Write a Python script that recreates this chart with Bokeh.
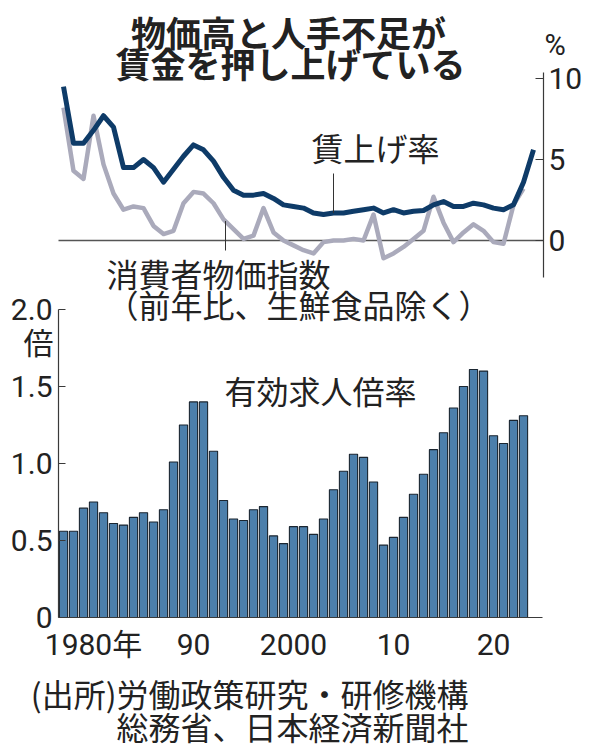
from bokeh.plotting import figure
from bokeh.models import Range1d, LinearAxis, FixedTicker, Label
from bokeh.embed import file_html
from bokeh.resources import INLINE

# ---------------- data ----------------
bar_years = list(range(1977, 2024))
job_ratio = [0.56, 0.56, 0.71, 0.75, 0.68, 0.61, 0.60, 0.65, 0.68, 0.62,
             0.70, 1.01, 1.25, 1.40, 1.40, 1.08, 0.76, 0.64, 0.63, 0.70,
             0.72, 0.53, 0.48, 0.59, 0.59, 0.54, 0.64, 0.83, 0.95, 1.06,
             1.04, 0.88, 0.47, 0.52, 0.65, 0.80, 0.93, 1.09, 1.20, 1.36,
             1.50, 1.61, 1.60, 1.18, 1.13, 1.28, 1.31]

wage_years = list(range(1977, 2025))
wage_rate = [9.5, 6.0, 6.0, 6.8, 7.7, 7.0, 4.5, 4.5, 5.0, 4.5,
             3.6, 4.4, 5.2, 5.9, 5.6, 4.9, 3.9, 3.1, 2.8, 2.8,
             2.9, 2.6, 2.2, 2.1, 2.0, 1.7, 1.6, 1.7, 1.7, 1.8,
             1.9, 2.0, 1.7, 1.9, 1.7, 1.8, 1.85, 2.2, 2.4, 2.1,
             2.1, 2.3, 2.2, 2.0, 1.9, 2.2, 3.6, 5.6]

cpi_years = list(range(1977, 2024))
cpi_rate = [8.2, 4.3, 3.8, 7.7, 4.7, 2.9, 1.9, 2.1, 2.0, 0.9,
            0.4, 0.6, 2.3, 3.0, 2.9, 2.3, 1.3, 0.7, 0.1, 0.3,
            2.0, 0.5, 0.0, -0.3, -0.6, -0.8, -0.1, 0.0, 0.0, 0.1,
            0.0, 1.6, -1.1, -0.8, -0.4, 0.1, 0.6, 2.7, 1.1, -0.1,
            0.5, 1.0, 0.6, -0.1, -0.2, 2.2, 3.2]

x_ticks = [1980, 1990, 2000, 2010, 2020]
x_tick_labels = ["1980年", "90", "2000", "10", "20"]
ratio_ticks = [0, 0.5, 1.0, 1.5, 2.0]
ratio_tick_labels = ["0", "0.5", "1.0", "1.5", "2.0"]
pct_ticks = [0, 5, 10]
pct_tick_labels = ["0", "5", "10"]

title_lines = ["物価高と人手不足が", "賃金を押し上げている"]
wage_label = "賃上げ率"
cpi_label = ["消費者物価指数", "（前年比、生鮮食品除く）"]
ratio_label = "有効求人倍率"
source_lines = ["(出所)労働政策研究・研修機構", "総務省、日本経済新聞社"]

# ---------------- layout constants (pixels) ----------------
W, H = 593, 751
LEFT, RIGHT, TOP, BOTTOM = 58, 542, 72, 617   # panel edges on the canvas
PX_PER_YEAR = 10.0
PCT_ZERO_PX, PX_PER_PCT = 240.0, 16.2
PX_PER_RATIO = 154.0
X_AT_LEFT = 1976.5


def xv(px):
    return X_AT_LEFT + (px - LEFT) / PX_PER_YEAR


def pv(py):
    return (PCT_ZERO_PX - py) / PX_PER_PCT


def rv(py):
    return (BOTTOM - py) / PX_PER_RATIO


JP = "Noto Sans CJK JP"
NUM = "Roboto, Noto Sans CJK JP"
TXT = "#222222"
AX = "#3a3a3a"

p = figure(width=W, height=H, output_backend="svg", toolbar_location=None,
           title=None,
           x_range=Range1d(xv(0), xv(W)), y_range=Range1d(rv(H), rv(0)),
           min_border_left=0, min_border_right=0,
           min_border_top=0, min_border_bottom=0,
           x_axis_location=None, y_axis_location=None,
           outline_line_color=None, background_fill_color="white",
           border_fill_color="white")
p.extra_y_ranges = {"pct": Range1d(pv(H), pv(0))}
p.xgrid.visible = False
p.ygrid.visible = False


def style_axis(a, size="30px", standoff=6):
    a.minor_tick_line_color = None
    a.axis_line_color = AX
    a.axis_line_width = 1.2
    a.major_tick_line_color = AX
    a.major_label_text_font = NUM
    a.major_label_text_font_size = size
    a.major_label_text_color = TXT
    a.major_label_standoff = standoff


# bottom axis (drawn at ratio 0)
xa = LinearAxis(ticker=FixedTicker(ticks=x_ticks), fixed_location=0,
                bounds=(xv(LEFT), xv(RIGHT)))
style_axis(xa, standoff=3)
xa.major_label_overrides = dict(zip(x_ticks, x_tick_labels))
xa.major_tick_line_color = None
p.add_layout(xa, "below")

# left axis (job-offer ratio)
ya = LinearAxis(ticker=FixedTicker(ticks=ratio_ticks), fixed_location=xv(LEFT),
                bounds=(0, 2.0))
style_axis(ya)
ya.major_label_overrides = dict(zip(ratio_ticks, ratio_tick_labels))
ya.major_tick_in = 7
ya.major_tick_out = 0
p.add_layout(ya, "left")

# right axis (percent)
ra = LinearAxis(y_range_name="pct", ticker=FixedTicker(ticks=pct_ticks),
                fixed_location=xv(RIGHT + 1), bounds=(pv(277), pv(TOP)))
style_axis(ra, standoff=5)
ra.major_label_overrides = dict(zip(pct_ticks, pct_tick_labels))
ra.major_tick_in = 8
ra.major_tick_out = 0
p.add_layout(ra, "right")

# zero line of upper panel
p.segment(x0=[xv(LEFT)], y0=[0], x1=[xv(RIGHT + 1)], y1=[0], y_range_name="pct",
          line_color="#555555", line_width=1.3)

# bars
p.vbar(x=bar_years, top=job_ratio, width=0.82, bottom=0,
       fill_color="#4c7fab", line_color="#1b2631", line_width=1.1)

# lines
p.line(cpi_years, cpi_rate, y_range_name="pct", line_color="#aaaabb",
       line_width=4.5, line_join="round")
p.line(wage_years, wage_rate, y_range_name="pct", line_color="#0e3b68",
       line_width=5, line_join="round")

# leader lines
wage_pt_year = 2004
wage_pt_val = wage_rate[wage_years.index(wage_pt_year)]
p.segment(x0=[wage_pt_year], y0=[wage_pt_val], x1=[wage_pt_year], y1=[pv(173)],
          y_range_name="pct", line_color="#333333", line_width=1)
cpi_pt_year = 1993
cpi_pt_val = cpi_rate[cpi_years.index(cpi_pt_year)]
p.segment(x0=[cpi_pt_year + 0.2], y0=[cpi_pt_val - 0.1], x1=[cpi_pt_year + 0.2],
          y1=[pv(250)], y_range_name="pct", line_color="#333333", line_width=1)


def lab(text, px, py, size, align="left", bold=False, font=JP):
    p.add_layout(Label(x=xv(px), y=pv(py), y_range_name="pct", text=text,
                       text_align=align, text_baseline="middle",
                       text_font=font, text_font_size=size, text_color=TXT,
                       text_font_style="bold" if bold else "normal"))


lab(title_lines[0], 288, 31, "35px", "center", True)
lab(title_lines[1], 290, 62, "35px", "center", True)
lab("%", 544, 44, "29px", "left", font=NUM)
lab(wage_label, 311, 146, "32px")
lab(cpi_label[0], 106, 272, "32px")
lab(cpi_label[1], 106, 303, "32px")
lab("倍", 53, 340, "30px", "right")
lab(ratio_label, 224, 389, "32px")
lab(source_lines[0], 468, 692, "32px", "right")
lab(source_lines[1], 468, 725, "32px", "right")

open("out.html", "w").write(file_html(p, INLINE))
